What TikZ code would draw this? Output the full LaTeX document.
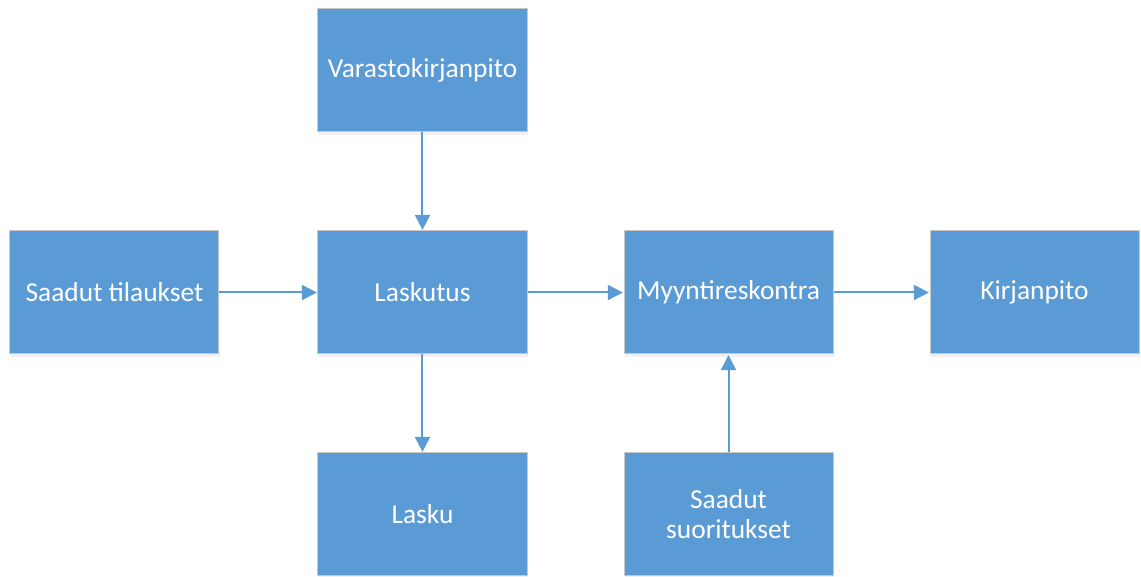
\documentclass[tikz,border=0pt]{standalone}
\usepackage{fontspec}
\setmainfont{Carlito}
\usepackage{tikz}
\usetikzlibrary{positioning, calc}
\usetikzlibrary{arrows.meta}
\usetikzlibrary{shadows}
\definecolor{boxblue}{HTML}{5B9BD5}
\definecolor{boxline}{HTML}{C8C8C8}
\tikzstyle{stepbox}=[rectangle,line width=0.5pt,draw=boxline,fill=boxblue,
text=white,minimum width=104.5pt,minimum height=61.5pt,align=center,
font=\fontsize{13.7}{15}\selectfont,
drop shadow={opacity=0.12,shadow xshift=0.6pt,shadow yshift=-1.5pt}]
\tikzstyle{edgepath} = [-{Triangle[length=7.5pt,width=7.5pt]},line width=1pt,
color=boxblue,shorten >=0.3pt]

\begin{document}
\begin{tikzpicture}[node distance=49pt]
    \useasboundingbox (-211.25pt,146.25pt) rectangle (359.25pt,-142.25pt);
    \node[stepbox] (laskutus) {Laskutus};
    \node[stepbox, above=of laskutus] (varasto) {Varastokirjanpito};
    \node[stepbox, left=of laskutus] (tilaukset) {Saadut tilaukset};
    \node[stepbox, below=of laskutus] (lasku) {Lasku};
    \node[stepbox, right=48pt of laskutus] (reskontra) {Myyntireskontra};
    \node[stepbox, right=48pt of reskontra] (kirjanpito) {Kirjanpito};
    \node[stepbox, below=of reskontra] (suoritukset) {Saadut\\suoritukset};

    \path[edgepath]
    (varasto) edge node {} (laskutus)
    (tilaukset) edge node {} (laskutus)
    (laskutus) edge node {} (lasku)
    (laskutus) edge node {} (reskontra)
    (reskontra) edge node {} (kirjanpito)
    (suoritukset) edge node {} (reskontra);
\end{tikzpicture}
\end{document}
